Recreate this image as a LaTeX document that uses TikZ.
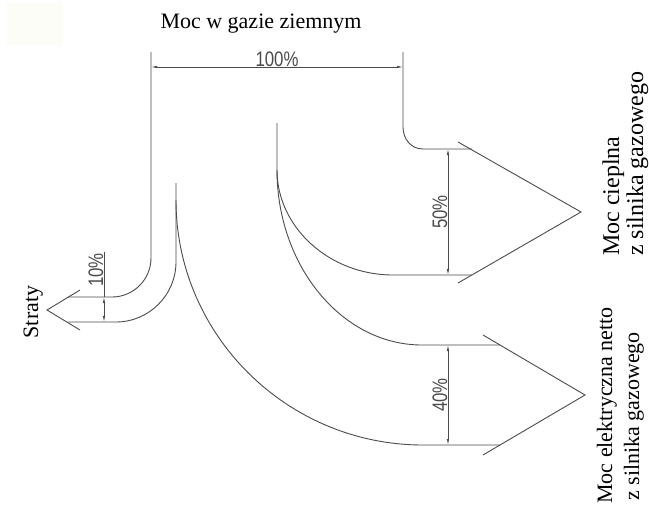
\documentclass[tikz,border=0pt]{standalone}
\usepackage{fontspec}
\setmainfont{Liberation Serif}
\newfontfamily\dimfont{Liberation Sans}
\usetikzlibrary{arrows.meta}
\definecolor{ln}{RGB}{75,75,75}
\definecolor{patch}{RGB}{253,253,247}
\tikzset{
  flow/.style={draw=ln, line width=0.9pt},
  dimline/.style={draw=ln, line width=0.7pt},
  dimarr/.style={dimline, {Latex[length=6pt,width=2.4pt]}-{Latex[length=6pt,width=2.4pt]}},
  dimtxt/.style={text=ln, font=\dimfont\fontsize{21}{21}\selectfont, inner sep=0pt},
  lbl/.style={text=black, font=\fontsize{22}{26}\selectfont, inner sep=0pt},
  lblbig/.style={text=black, font=\fontsize{24}{28}\selectfont, inner sep=0pt},
}
\begin{document}
\begin{tikzpicture}[x=1pt,y=-1pt]
\useasboundingbox (0,0) rectangle (649,512);
\fill[patch] (7,3) rectangle (63,45);

% title
\node[lbl, anchor=base] (title) at (261,28) {Moc w gazie ziemnym};

% key points
\coordinate (L0) at (151,52);
\coordinate (R0) at (403,52);
\coordinate (D1a) at (151,67);
\coordinate (D1b) at (403,67);

% main stream outer edges
\draw[flow] (L0) -- (151,258) .. controls (151,279.5) and (133.5,297) .. (112,297) -- (68,297);
\draw[flow] (R0) -- (403,127) .. controls (403,139) and (411,149) .. (423,149) -- (472,149);

% inner branch line (losses / electric)
\draw[flow] (176,183) -- (176,262) .. controls (176,295) and (149,322) .. (116,322) -- (68,322);
% electric outer
\draw[flow] (176,200) .. controls (176,335) and (287,445) .. (423,445) -- (500,445);
% heat inner
\draw[flow] (277,123) -- (277,170) .. controls (277,227) and (329,275) .. (393,275) -- (472,275);
% electric top
\draw[flow] (277,170) .. controls (277,266) and (342,345) .. (422,345) -- (500,345);

% arrow heads
\draw[flow] (80,290) -- (47,310) -- (80,330);
\draw[flow] (458,142) -- (581,212) -- (458,283);
\draw[flow] (483,335) -- (585,395) -- (483,455);

% dimensions
\draw[dimarr] (D1a) -- (D1b);
\node[dimtxt, anchor=base] (p100) at (277,66) {\scalebox{0.8}[1]{100\%}};

\coordinate (D5a) at (448,149);
\coordinate (D5b) at (448,275);
\draw[dimarr] (D5a) -- (D5b);
\node[dimtxt, rotate=90, anchor=base] (p50) at (447,212) {\scalebox{0.8}[1]{50\%}};

\coordinate (D4a) at (448,345);
\coordinate (D4b) at (448,445);
\draw[dimarr] (D4a) -- (D4b);
\node[dimtxt, rotate=90, anchor=base] (p40) at (447,395) {\scalebox{0.8}[1]{40\%}};

\coordinate (D10t) at (104,252);
\coordinate (D10a) at (104,297);
\coordinate (D10b) at (104,322);
\draw[dimline] (D10t) -- (D10a);
\draw[dimarr] (D10a) -- (D10b);
\node[dimtxt, rotate=90, anchor=base] (p10) at (103,270) {\scalebox{0.8}[1]{10\%}};

% labels
\node[lbl, rotate=90, anchor=base] (straty) at (38,312) {Straty};
\node[lblbig, rotate=90, anchor=base west] (heat1) at (619,256) {Moc cieplna};
\node[lblbig, rotate=90, anchor=base west] (heat2) at (643,256) {z silnika gazowego};
\node[lbl, rotate=90, anchor=base west] (el1) at (612,504) {Moc elektryczna netto};
\node[lbl, rotate=90, anchor=base west] (el2) at (639,501) {z silnika gazowego};
\end{tikzpicture}
\end{document}
